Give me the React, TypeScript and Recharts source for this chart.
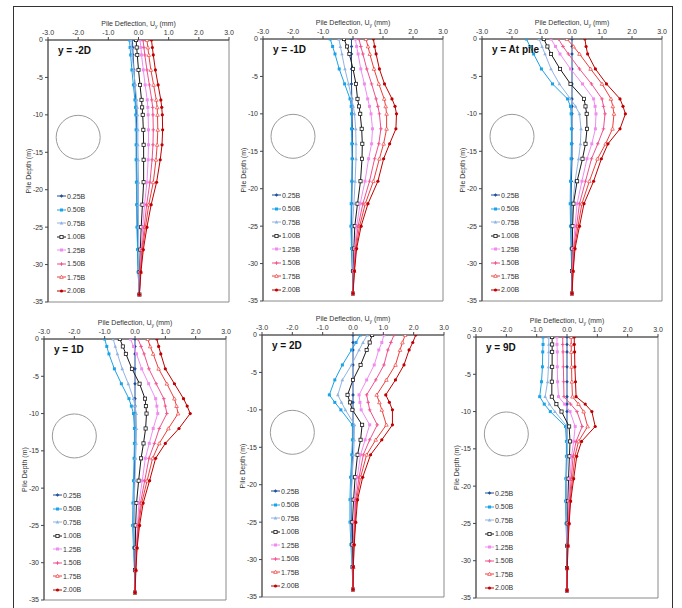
import {
  ScatterChart,
  Scatter,
  XAxis,
  YAxis,
  ReferenceDot,
  ReferenceArea,
  Legend,
} from "recharts";

const FONT = "'Liberation Sans', Arial, sans-serif";

const DEPTH = [0, -1, -2, -4, -6, -8, -9, -10, -12, -14, -16, -19, -22, -25, -28, -31, -34];
const SERIES = ["0.25B", "0.50B", "0.75B", "1.00B", "1.25B", "1.50B", "1.75B", "2.00B"];
const X_TICKS = [-3, -2, -1, 0, 1, 2, 3];
const Y_TICKS = [0, -5, -10, -15, -20, -25, -30, -35];
const TITLES = ["y = -2D", "y = -1D", "y = At pile", "y = 1D", "y = 2D", "y = 9D"];

// deflection (mm) per series, read at DEPTH
const M2D = [
  [-0.2, -0.19, -0.18, -0.15, -0.12, -0.09, -0.08, -0.07, -0.06, -0.06, -0.06, -0.05, -0.05, -0.04, -0.03, -0.01, 0.02],
  [-0.3, -0.28, -0.26, -0.22, -0.17, -0.12, -0.1, -0.09, -0.08, -0.08, -0.08, -0.07, -0.06, -0.05, -0.03, -0.01, 0.02],
  [-0.25, -0.23, -0.21, -0.16, -0.11, -0.06, -0.04, -0.03, -0.02, -0.02, -0.01, 0, 0, 0, 0.01, 0.01, 0.02],
  [-0.08, -0.06, -0.04, 0, 0.05, 0.1, 0.12, 0.14, 0.16, 0.17, 0.17, 0.17, 0.13, 0.09, 0.06, 0.04, 0.03],
  [0.05, 0.08, 0.1, 0.16, 0.22, 0.29, 0.31, 0.32, 0.33, 0.33, 0.32, 0.28, 0.2, 0.14, 0.09, 0.05, 0.03],
  [0.15, 0.18, 0.21, 0.28, 0.36, 0.44, 0.47, 0.48, 0.49, 0.48, 0.45, 0.38, 0.27, 0.19, 0.11, 0.06, 0.03],
  [0.28, 0.31, 0.34, 0.41, 0.5, 0.59, 0.62, 0.63, 0.64, 0.62, 0.58, 0.49, 0.34, 0.23, 0.13, 0.07, 0.03],
  [0.43, 0.46, 0.49, 0.56, 0.65, 0.74, 0.77, 0.79, 0.8, 0.78, 0.72, 0.6, 0.42, 0.28, 0.16, 0.08, 0.03],
];

const M1D = [
  [-0.05, -0.05, -0.05, -0.05, -0.05, -0.04, -0.03, -0.03, -0.02, -0.02, -0.02, -0.03, -0.04, -0.05, -0.04, -0.02, 0],
  [-0.76, -0.68, -0.6, -0.46, -0.28, -0.1, -0.06, -0.05, -0.05, -0.04, -0.03, -0.04, -0.06, -0.07, -0.05, -0.02, 0],
  [-0.47, -0.42, -0.37, -0.27, -0.15, -0.04, 0.01, 0.05, 0.09, 0.1, 0.1, 0.07, 0.03, -0.02, -0.02, -0.01, 0],
  [-0.3, -0.2, -0.12, 0, 0.1, 0.15, 0.2, 0.24, 0.29, 0.31, 0.3, 0.25, 0.15, 0.06, 0.03, 0.01, 0],
  [0.08, 0.12, 0.17, 0.26, 0.38, 0.49, 0.55, 0.6, 0.65, 0.62, 0.52, 0.4, 0.24, 0.12, 0.06, 0.02, 0],
  [0.2, 0.26, 0.33, 0.46, 0.62, 0.77, 0.83, 0.88, 0.93, 0.86, 0.72, 0.55, 0.33, 0.17, 0.08, 0.03, 0],
  [0.43, 0.5, 0.56, 0.7, 0.86, 1.04, 1.09, 1.12, 1.12, 1.02, 0.88, 0.68, 0.41, 0.22, 0.1, 0.04, 0],
  [0.68, 0.72, 0.77, 0.88, 1.05, 1.3, 1.4, 1.45, 1.43, 1.22, 1.02, 0.83, 0.5, 0.27, 0.12, 0.05, 0],
];

const AT_PILE = [
  [0, 0, 0, 0, 0, 0, 0, 0, 0, 0, 0, -0.02, -0.03, -0.03, -0.02, -0.01, 0],
  [-1.52, -1.4, -1.28, -1.02, -0.65, -0.15, -0.05, -0.03, -0.02, -0.02, -0.03, -0.05, -0.06, -0.05, -0.03, -0.01, 0],
  [-1.1, -1.0, -0.9, -0.7, -0.42, -0.05, 0.12, 0.25, 0.3, 0.28, 0.22, 0.1, 0.03, 0, -0.01, 0, 0],
  [-0.94, -0.82, -0.7, -0.4, -0.05, 0.4, 0.45, 0.49, 0.5, 0.45, 0.35, 0.17, 0.05, 0.02, 0.01, 0, 0],
  [-0.7, -0.55, -0.4, -0.05, 0.35, 0.72, 0.77, 0.8, 0.78, 0.66, 0.5, 0.33, 0.17, 0.1, 0.04, 0.01, 0],
  [-0.45, -0.3, -0.12, 0.25, 0.65, 1.0, 1.05, 1.1, 1.05, 0.86, 0.65, 0.45, 0.25, 0.15, 0.06, 0.02, 0],
  [-0.17, 0.05, 0.25, 0.62, 1.0, 1.3, 1.36, 1.4, 1.35, 1.12, 0.85, 0.58, 0.33, 0.2, 0.08, 0.03, 0],
  [0.43, 0.47, 0.52, 0.78, 1.15, 1.6, 1.7, 1.78, 1.6, 1.2, 0.98, 0.72, 0.4, 0.25, 0.1, 0.04, 0],
];

const P1D = [
  [0, 0, 0, 0, 0, 0, 0, 0, 0, 0, -0.01, -0.02, -0.03, -0.04, -0.03, -0.01, 0],
  [-1.0, -0.93, -0.86, -0.68, -0.45, -0.2, -0.12, -0.05, -0.02, -0.02, -0.03, -0.05, -0.07, -0.08, -0.05, -0.02, 0],
  [-0.72, -0.65, -0.58, -0.42, -0.22, -0.05, 0, 0.04, 0.05, 0.04, 0.02, 0, -0.03, -0.04, -0.03, -0.01, 0],
  [-0.5, -0.4, -0.3, -0.1, 0.15, 0.33, 0.36, 0.38, 0.35, 0.28, 0.2, 0.12, 0.05, 0.02, 0.01, 0, 0],
  [-0.15, -0.05, 0.05, 0.22, 0.45, 0.68, 0.72, 0.75, 0.6, 0.47, 0.34, 0.24, 0.13, 0.08, 0.04, 0.01, 0],
  [0.1, 0.2, 0.3, 0.46, 0.7, 0.95, 1.0, 1.05, 0.8, 0.64, 0.46, 0.32, 0.18, 0.1, 0.05, 0.02, 0],
  [0.42, 0.5, 0.6, 0.78, 1.05, 1.3, 1.37, 1.42, 1.1, 0.8, 0.58, 0.4, 0.22, 0.12, 0.06, 0.02, 0],
  [0.72, 0.78, 0.85, 1.0, 1.3, 1.6, 1.72, 1.82, 1.45, 1.0, 0.68, 0.48, 0.27, 0.15, 0.07, 0.03, 0],
];

const P2D = [
  [0, 0, 0, 0, 0, 0, 0, 0, 0, 0, -0.02, -0.04, -0.06, -0.05, -0.04, -0.02, 0],
  [0.24, 0.1, -0.05, -0.35, -0.6, -0.78, -0.6, -0.4, -0.02, -0.02, -0.04, -0.08, -0.1, -0.1, -0.07, -0.03, 0],
  [0.47, 0.33, 0.2, -0.05, -0.35, -0.5, -0.38, -0.25, 0.05, 0.04, 0.02, -0.03, -0.06, -0.07, -0.05, -0.02, 0],
  [0.63, 0.55, 0.45, 0.25, 0, -0.18, -0.1, -0.02, 0.3, 0.25, 0.15, 0.07, 0.02, -0.02, -0.02, -0.01, 0],
  [1.02, 0.95, 0.85, 0.7, 0.45, 0.2, 0.23, 0.27, 0.55, 0.4, 0.25, 0.14, 0.06, 0.03, 0.01, 0, 0],
  [1.35, 1.25, 1.15, 1.02, 0.75, 0.45, 0.5, 0.55, 0.8, 0.55, 0.34, 0.2, 0.09, 0.05, 0.02, 0.01, 0],
  [1.72, 1.63, 1.55, 1.4, 1.1, 0.78, 0.87, 0.95, 1.1, 0.75, 0.45, 0.25, 0.12, 0.07, 0.03, 0.01, 0],
  [2.07, 1.97, 1.85, 1.68, 1.4, 1.08, 1.2, 1.3, 1.3, 0.95, 0.58, 0.32, 0.15, 0.09, 0.04, 0.01, 0],
];

const P9D = [
  [0, 0, 0, 0, 0, 0, 0, 0, 0, 0, -0.01, -0.02, -0.03, -0.02, -0.01, 0, 0],
  [-0.79, -0.79, -0.8, -0.81, -0.84, -0.9, -0.75, -0.55, -0.05, -0.02, -0.02, -0.04, -0.05, -0.03, -0.01, 0, 0],
  [-0.6, -0.6, -0.6, -0.61, -0.64, -0.72, -0.58, -0.4, 0, 0.02, 0.01, -0.02, -0.03, -0.02, -0.01, 0, 0],
  [-0.49, -0.49, -0.49, -0.49, -0.5, -0.5, -0.35, -0.18, 0.07, 0.1, 0.08, 0.05, 0.03, 0.02, 0.01, 0, 0],
  [-0.33, -0.33, -0.32, -0.32, -0.31, -0.28, -0.08, 0.1, 0.27, 0.22, 0.15, 0.1, 0.06, 0.04, 0.02, 0.01, 0],
  [-0.14, -0.14, -0.13, -0.12, -0.11, -0.1, 0.12, 0.33, 0.5, 0.3, 0.2, 0.14, 0.08, 0.05, 0.02, 0.01, 0],
  [0.14, 0.14, 0.14, 0.15, 0.16, 0.18, 0.38, 0.55, 0.68, 0.38, 0.26, 0.18, 0.1, 0.06, 0.03, 0.01, 0],
  [0.24, 0.24, 0.25, 0.26, 0.28, 0.3, 0.6, 0.82, 0.93, 0.48, 0.32, 0.22, 0.12, 0.07, 0.03, 0.01, 0],
];

const PANELS = [M2D, M1D, AT_PILE, P1D, P2D, P9D];

const COLORS = ["#1f4e9a", "#1aa3e8", "#8fb4e3", "#1a1a1a", "#f08cf0", "#f0508c", "#f03c3c", "#c00000"];
const MARKERS = ["diamond", "square", "triangle", "openSquare", "square", "cross", "openTriangle", "circle"];

// plot-area boxes on the page
const BOXES = [
  { l: 48, t: 40, w: 181, h: 262 },
  { l: 263, t: 39, w: 180, h: 262 },
  { l: 482, t: 39, w: 180, h: 262 },
  { l: 44, t: 339, w: 182, h: 261 },
  { l: 262, t: 335, w: 182, h: 262 },
  { l: 476, t: 337, w: 182, h: 261 },
];

function Marker({ kind, cx, cy, color }: { kind: string; cx: number; cy: number; color: string }) {
  const s = 1.8;
  switch (kind) {
    case "diamond":
      return <path d={`M${cx},${cy - s}L${cx + s},${cy}L${cx},${cy + s}L${cx - s},${cy}Z`} fill={color} />;
    case "square":
      return <rect x={cx - 1.5} y={cy - 1.5} width={3} height={3} fill={color} />;
    case "openSquare":
      return <rect x={cx - 1.6} y={cy - 1.6} width={3.2} height={3.2} fill="#fff" stroke={color} strokeWidth={0.8} />;
    case "triangle":
      return <path d={`M${cx},${cy - s}L${cx + s},${cy + 1.4}L${cx - s},${cy + 1.4}Z`} fill={color} />;
    case "openTriangle":
      return <path d={`M${cx},${cy - s}L${cx + s},${cy + 1.4}L${cx - s},${cy + 1.4}Z`} fill="#fff" stroke={color} strokeWidth={0.7} />;
    case "cross":
      return <path d={`M${cx - s},${cy}H${cx + s}M${cx},${cy - s}V${cy + s}`} stroke={color} strokeWidth={0.9} />;
    default:
      return <circle cx={cx} cy={cy} r={1.6} fill={color} />;
  }
}

const renderLegend = () => (
  <div style={{ fontFamily: FONT, fontSize: 7, color: "#333" }}>
    {SERIES.map((s, i) => (
      <div key={s} style={{ display: "flex", alignItems: "center", height: 13.5 }}>
        <svg width={9} height={6} style={{ overflow: "visible" }}>
          <line x1={0} y1={3} x2={9} y2={3} stroke={COLORS[i]} strokeWidth={1} />
          <Marker kind={MARKERS[i]} cx={4.5} cy={3} color={COLORS[i]} />
        </svg>
        <span style={{ marginLeft: 1 }}>{s}</span>
      </div>
    ))}
  </div>
);

const xLabel = (props: any) => {
  const vb = props.viewBox;
  return (
    <text x={vb.x + vb.width / 2} y={vb.y + 6} textAnchor="middle" fontSize={7} fontFamily={FONT} fill="#333">
      Pile Deflection, U<tspan fontSize={5} dy={1.5}>y</tspan>
      <tspan dy={-1.5}> (mm)</tspan>
    </text>
  );
};

const yLabel = (props: any) => {
  const vb = props.viewBox;
  const x = vb.x + 22.5;
  const y = vb.y + vb.height / 2;
  return (
    <text x={x} y={y} transform={`rotate(-90 ${x} ${y})`} textAnchor="middle" fontSize={7} fontFamily={FONT} fill="#333">
      Pile Depth (m)
    </text>
  );
};

function Panel({ idx }: { idx: number }) {
  const box = BOXES[idx];
  const rows = PANELS[idx];
  const width = 45 + box.w + 10;
  const height = 38 + box.h + 5;
  const tick = { fontSize: 7, fontFamily: FONT, fill: "#333" };
  return (
    <div style={{ position: "absolute", left: box.l - 45, top: box.t - 38 }}>
      <ScatterChart width={width} height={height} margin={{ top: 18, left: 5, right: 10, bottom: 5 }}>
        <XAxis
          type="number"
          dataKey="x"
          orientation="top"
          domain={[-3, 3]}
          ticks={X_TICKS}
          tickFormatter={(v) => v.toFixed(1)}
          tick={tick}
          tickSize={3}
          tickMargin={2}
          height={20}
          stroke="#444"
          allowDataOverflow
          label={xLabel}
        />
        <YAxis
          type="number"
          dataKey="y"
          domain={[-35, 0]}
          ticks={Y_TICKS}
          tick={tick}
          tickSize={3}
          tickMargin={2}
          width={40}
          stroke="#444"
          allowDataOverflow
          label={yLabel}
        />
        <ReferenceArea x1={-3} x2={3} y1={-35} y2={0} fill="none" fillOpacity={0} stroke="#8a8a8a" strokeWidth={1} />
        <ReferenceDot x={-2} y={-13} r={22} fill="none" stroke="#9a9a9a" strokeWidth={1} />
        {rows.map((vals, i) => (
          <Scatter
            key={SERIES[i]}
            name={SERIES[i]}
            data={DEPTH.map((d, j) => ({ x: vals[j], y: d }))}
            fill={COLORS[i]}
            line={{ stroke: COLORS[i], strokeWidth: 1 }}
            shape={(p: any) => <Marker kind={MARKERS[i]} cx={p.cx} cy={p.cy} color={COLORS[i]} />}
            isAnimationActive={false}
          />
        ))}
        <Legend
          layout="horizontal"
          verticalAlign="middle"
          align="center"
          content={renderLegend}
          wrapperStyle={{ position: "absolute", left: 54, top: 38 + 156 - 6.75, width: 40 }}
        />
      </ScatterChart>
      <div
        style={{
          position: "absolute",
          left: 45 + 10,
          top: 38 + 5,
          fontFamily: FONT,
          fontSize: 10,
          fontWeight: "bold",
          color: "#111",
          whiteSpace: "nowrap",
        }}
      >
        {TITLES[idx]}
      </div>
    </div>
  );
}

export default function App() {
  return (
    <div style={{ position: "absolute", left: 0, top: 0, width: 682, height: 608, background: "#fff", overflow: "hidden" }}>
      <div
        style={{
          position: "absolute",
          left: 13,
          top: 6,
          width: 658,
          height: 620,
          border: "1px solid #333",
        }}
      />
      {BOXES.map((_, i) => (
        <Panel key={i} idx={i} />
      ))}
    </div>
  );
}
